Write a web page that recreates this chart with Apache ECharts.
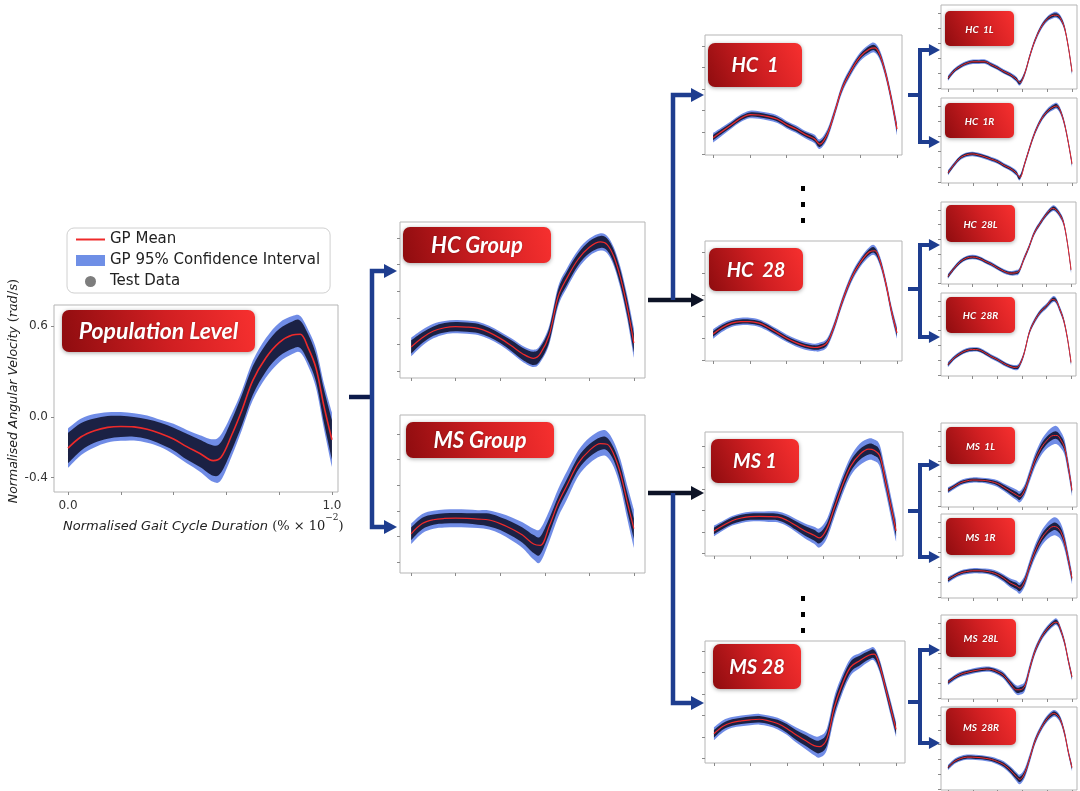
<!DOCTYPE html>
<html><head><meta charset="utf-8">
<script src="https://cdn.jsdelivr.net/npm/echarts@6/dist/echarts.min.js"></script>
<style>html,body{margin:0;padding:0;background:#fff}#c{width:1080px;height:791px}</style>
</head><body><div id="c"></div>
<script>
// ---------------- DATA ----------------
const X = [0,0.05,0.1,0.15,0.2,0.25,0.3,0.35,0.4,0.45,0.5,0.55,0.58,0.62,0.66,0.7,0.75,0.8,0.85,0.88,0.91,0.94,0.97,1.0];
const xTicks = [0,0.2,0.4,0.6,0.8,1.0];
const yTicks = [-0.4,-0.2,0,0.2,0.4,0.6];
const popXLabels = [0,1];
const popYLabels = [-0.4,0,0.6];
const plotLabels = ['Population Level','HC Group','MS Group','HC  1','HC  28','MS 1','MS 28',
  'HC  1L','HC  1R','HC  28L','HC  28R','MS  1L','MS  1R','MS  28L','MS  28R'];
const legendNames = ['GP Mean','GP 95% Confidence Interval','Test Data'];

const popMean   = [-0.205,-0.13,-0.09,-0.068,-0.062,-0.065,-0.08,-0.108,-0.145,-0.195,-0.24,-0.287,-0.265,-0.12,0.05,0.24,0.39,0.49,0.54,0.545,0.455,0.32,0.07,-0.15];
const popCI     = [0.13,0.12,0.11,0.1,0.095,0.09,0.09,0.09,0.1,0.11,0.12,0.14,0.15,0.14,0.13,0.13,0.13,0.13,0.125,0.12,0.12,0.13,0.15,0.18];
const popSpread = [0.1,0.09,0.08,0.075,0.07,0.065,0.065,0.07,0.075,0.085,0.09,0.1,0.1,0.1,0.1,0.095,0.09,0.09,0.09,0.09,0.09,0.09,0.11,0.13];

const hcgMean   = [-0.22,-0.15,-0.1,-0.075,-0.067,-0.07,-0.08,-0.11,-0.155,-0.21,-0.27,-0.305,-0.27,-0.13,0.16,0.3,0.44,0.53,0.57,0.55,0.46,0.3,0.08,-0.19];
const hcgCI     = [0.07,0.06,0.055,0.05,0.05,0.05,0.05,0.05,0.05,0.055,0.06,0.065,0.065,0.07,0.075,0.075,0.07,0.065,0.065,0.065,0.07,0.08,0.09,0.11];
const hcgSpread = [0.05,0.04,0.035,0.035,0.035,0.035,0.035,0.035,0.035,0.04,0.045,0.05,0.05,0.05,0.05,0.05,0.045,0.045,0.045,0.045,0.05,0.055,0.06,0.07];

const msgMean   = [-0.18,-0.1,-0.07,-0.06,-0.058,-0.06,-0.065,-0.072,-0.1,-0.14,-0.19,-0.26,-0.27,-0.12,0.06,0.2,0.37,0.47,0.525,0.52,0.44,0.29,0.07,-0.14];
const msgCI     = [0.08,0.075,0.07,0.07,0.07,0.07,0.07,0.075,0.08,0.09,0.1,0.12,0.13,0.12,0.11,0.11,0.1,0.1,0.1,0.1,0.1,0.11,0.13,0.15];
const msgSpread = [0.05,0.045,0.04,0.04,0.04,0.04,0.045,0.05,0.05,0.055,0.06,0.07,0.07,0.06,0.05,0.05,0.05,0.05,0.05,0.05,0.05,0.06,0.07,0.08];

const hc1Mean   = [-0.25,-0.19,-0.13,-0.07,-0.036,-0.04,-0.055,-0.08,-0.13,-0.17,-0.22,-0.26,-0.31,-0.22,-0.02,0.2,0.37,0.5,0.57,0.58,0.5,0.33,0.1,-0.17];
const hc1CI     = [0.045,0.04,0.035,0.035,0.035,0.035,0.035,0.035,0.035,0.035,0.035,0.04,0.045,0.045,0.04,0.04,0.04,0.04,0.045,0.045,0.045,0.045,0.05,0.06];
const hc1Spread = [0.025,0.022,0.02,0.02,0.02,0.02,0.02,0.02,0.02,0.02,0.02,0.022,0.025,0.025,0.022,0.022,0.022,0.022,0.025,0.025,0.025,0.025,0.028,0.03];

const hc28Mean   = [-0.16,-0.1,-0.06,-0.045,-0.045,-0.06,-0.1,-0.15,-0.2,-0.24,-0.27,-0.285,-0.28,-0.24,-0.08,0.13,0.35,0.5,0.6,0.61,0.5,0.3,0.05,-0.15];
const hc28CI     = [0.045,0.04,0.035,0.035,0.035,0.035,0.035,0.035,0.035,0.035,0.035,0.035,0.04,0.04,0.04,0.04,0.04,0.04,0.045,0.045,0.045,0.045,0.05,0.055];
const hc28Spread = [0.025,0.022,0.02,0.02,0.02,0.02,0.02,0.02,0.02,0.02,0.02,0.02,0.022,0.022,0.022,0.022,0.022,0.022,0.025,0.025,0.025,0.025,0.028,0.03];

const ms1Mean   = [-0.19,-0.14,-0.095,-0.07,-0.057,-0.055,-0.056,-0.06,-0.09,-0.14,-0.19,-0.23,-0.255,-0.17,0.02,0.21,0.41,0.52,0.57,0.56,0.51,0.29,0.05,-0.19];
const ms1CI     = [0.05,0.045,0.045,0.045,0.045,0.045,0.05,0.05,0.055,0.06,0.07,0.08,0.09,0.09,0.09,0.09,0.09,0.1,0.1,0.1,0.1,0.1,0.1,0.1];
const ms1Spread = [0.03,0.03,0.03,0.03,0.03,0.03,0.03,0.03,0.035,0.04,0.045,0.05,0.05,0.05,0.05,0.05,0.05,0.05,0.05,0.05,0.05,0.05,0.05,0.05];

const ms28Mean   = [-0.17,-0.1,-0.065,-0.05,-0.04,-0.035,-0.05,-0.075,-0.12,-0.18,-0.23,-0.28,-0.29,-0.22,0.07,0.27,0.45,0.51,0.56,0.57,0.46,0.27,0.07,-0.13];
const ms28CI     = [0.06,0.055,0.05,0.05,0.05,0.05,0.05,0.055,0.06,0.07,0.08,0.09,0.1,0.1,0.1,0.09,0.08,0.07,0.06,0.06,0.06,0.06,0.07,0.07];
const ms28Spread = [0.035,0.03,0.03,0.03,0.03,0.03,0.03,0.035,0.04,0.045,0.05,0.055,0.06,0.06,0.06,0.055,0.05,0.045,0.04,0.04,0.04,0.04,0.045,0.045];

const hc1lMean  = [-0.27,-0.17,-0.11,-0.07,-0.05,-0.05,-0.05,-0.09,-0.13,-0.18,-0.22,-0.28,-0.33,-0.2,0.03,0.23,0.41,0.52,0.57,0.57,0.52,0.4,0.15,-0.18];
const hc1rMean  = [-0.28,-0.17,-0.08,-0.04,-0.03,-0.045,-0.07,-0.1,-0.13,-0.18,-0.22,-0.28,-0.34,-0.15,0.06,0.25,0.42,0.53,0.59,0.6,0.52,0.36,0.12,-0.16];
const hc28lMean = [-0.31,-0.2,-0.11,-0.06,-0.045,-0.06,-0.1,-0.14,-0.19,-0.235,-0.265,-0.26,-0.23,-0.06,0.1,0.28,0.42,0.54,0.62,0.6,0.53,0.42,0.15,-0.22];
const hc28rMean = [-0.26,-0.17,-0.11,-0.07,-0.055,-0.06,-0.1,-0.15,-0.19,-0.24,-0.28,-0.3,-0.27,-0.1,0.17,0.32,0.45,0.53,0.62,0.6,0.48,0.34,0.1,-0.23];
const ms1lMean  = [-0.19,-0.14,-0.09,-0.065,-0.053,-0.055,-0.06,-0.075,-0.1,-0.15,-0.2,-0.25,-0.275,-0.18,0.01,0.2,0.37,0.48,0.54,0.54,0.48,0.38,0.12,-0.19];
const ms1rMean  = [-0.17,-0.12,-0.08,-0.06,-0.05,-0.05,-0.055,-0.07,-0.1,-0.15,-0.21,-0.25,-0.28,-0.18,0.02,0.2,0.37,0.48,0.54,0.53,0.47,0.33,0.1,-0.15];
const ms28lMean = [-0.19,-0.13,-0.085,-0.06,-0.04,-0.025,-0.015,-0.02,-0.05,-0.1,-0.2,-0.29,-0.29,-0.24,0.0,0.22,0.4,0.52,0.6,0.61,0.5,0.34,0.1,-0.12];
const ms28rMean = [-0.11,-0.03,0.01,0.03,0.03,0.025,0.015,0.0,-0.03,-0.07,-0.14,-0.23,-0.27,-0.18,0.02,0.24,0.42,0.55,0.62,0.6,0.52,0.35,0.1,-0.11];

const hcLeafCI      = [0.035,0.03,0.03,0.03,0.03,0.03,0.03,0.03,0.03,0.03,0.03,0.035,0.035,0.035,0.035,0.035,0.035,0.035,0.04,0.04,0.04,0.04,0.04,0.045];
const hcLeafSpread  = [0.02,0.018,0.018,0.018,0.018,0.018,0.018,0.018,0.018,0.018,0.018,0.02,0.02,0.02,0.02,0.02,0.02,0.02,0.022,0.022,0.022,0.022,0.022,0.025];
const ms1LeafCI     = [0.04,0.035,0.035,0.035,0.035,0.035,0.035,0.04,0.045,0.05,0.06,0.07,0.075,0.075,0.08,0.09,0.1,0.11,0.12,0.12,0.11,0.1,0.09,0.08];
const ms1LeafSpread = [0.022,0.02,0.02,0.02,0.02,0.02,0.02,0.022,0.025,0.03,0.035,0.04,0.04,0.04,0.04,0.045,0.05,0.05,0.05,0.05,0.05,0.05,0.045,0.04];
const ms28LeafCI     = [0.035,0.035,0.035,0.035,0.035,0.035,0.035,0.035,0.04,0.045,0.05,0.06,0.065,0.065,0.06,0.05,0.045,0.045,0.045,0.045,0.045,0.045,0.045,0.05];
const ms28LeafSpread = [0.02,0.02,0.02,0.02,0.02,0.02,0.02,0.02,0.022,0.025,0.03,0.035,0.035,0.035,0.03,0.028,0.025,0.025,0.025,0.025,0.025,0.025,0.025,0.028];

// ---------------- LAYOUT ----------------
const plots = [
  {mean: popMean,  ci: popCI,  sp: popSpread,  box:{l:54,t:305,w:284,h:187}, xr:[-0.053,1.023], yr:[-0.494,0.738], lw:1.6, pop:true},
  {mean: hcgMean,  ci: hcgCI,  sp: hcgSpread,  box:{l:400,t:222,w:245,h:156}, xr:[-0.05,1.05], yr:[-0.453,0.72], lw:1.2},
  {mean: msgMean,  ci: msgCI,  sp: msgSpread,  box:{l:400,t:415,w:245,h:158}, xr:[-0.05,1.05], yr:[-0.486,0.748], lw:1.2},
  {mean: hc1Mean,  ci: hc1CI,  sp: hc1Spread,  box:{l:705,t:35,w:197,h:120},  xr:[-0.044,1.027], yr:[-0.41,0.70], lw:1.2},
  {mean: hc28Mean, ci: hc28CI, sp: hc28Spread, box:{l:705,t:241,w:197,h:120}, xr:[-0.044,1.027], yr:[-0.41,0.70], lw:1.2},
  {mean: ms1Mean,  ci: ms1CI,  sp: ms1Spread,  box:{l:705,t:432,w:198,h:124}, xr:[-0.049,1.038], yr:[-0.423,0.73], lw:1.2},
  {mean: ms28Mean, ci: ms28CI, sp: ms28Spread, box:{l:705,t:641,w:200,h:122}, xr:[-0.049,1.049], yr:[-0.442,0.693], lw:1.2},
  {mean: hc1lMean,  ci: hcLeafCI, sp: hcLeafSpread, box:{l:941,t:5,w:136,h:84},   xr:[-0.056,1.04], yr:[-0.413,0.707], lw:1},
  {mean: hc1rMean,  ci: hcLeafCI, sp: hcLeafSpread, box:{l:941,t:98,w:136,h:85},  xr:[-0.056,1.04], yr:[-0.413,0.707], lw:1},
  {mean: hc28lMean, ci: hcLeafCI, sp: hcLeafSpread, box:{l:941,t:202,w:135,h:82}, xr:[-0.056,1.04], yr:[-0.413,0.707], lw:1},
  {mean: hc28rMean, ci: hcLeafCI, sp: hcLeafSpread, box:{l:941,t:293,w:135,h:83}, xr:[-0.056,1.04], yr:[-0.413,0.707], lw:1},
  {mean: ms1lMean,  ci: ms1LeafCI, sp: ms1LeafSpread, box:{l:941,t:423,w:136,h:84}, xr:[-0.056,1.04], yr:[-0.413,0.707], lw:1},
  {mean: ms1rMean,  ci: ms1LeafCI, sp: ms1LeafSpread, box:{l:941,t:514,w:136,h:84}, xr:[-0.056,1.04], yr:[-0.413,0.707], lw:1},
  {mean: ms28lMean, ci: ms28LeafCI, sp: ms28LeafSpread, box:{l:941,t:615,w:136,h:84}, xr:[-0.056,1.04], yr:[-0.413,0.707], lw:1},
  {mean: ms28rMean, ci: ms28LeafCI, sp: ms28LeafSpread, box:{l:941,t:707,w:136,h:83}, xr:[-0.056,1.04], yr:[-0.413,0.707], lw:1}
];
const labelBoxes = [
  {x:62,y:310,w:193,h:42,fs:23},
  {x:403,y:227,w:148,h:36,fs:22},
  {x:406,y:422,w:148,h:36,fs:22},
  {x:708,y:43,w:94,h:44,fs:20},
  {x:709,y:248,w:94,h:43,fs:20},
  {x:711,y:439,w:88,h:44,fs:20},
  {x:713,y:644,w:88,h:45,fs:20},
  {x:945,y:11,w:69,h:35,fs:10},
  {x:945,y:103,w:69,h:35,fs:10},
  {x:946,y:205,w:69,h:37,fs:10},
  {x:946,y:297,w:69,h:36,fs:10},
  {x:946,y:427,w:69,h:37,fs:10},
  {x:946,y:518,w:69,h:37,fs:10},
  {x:946,y:619,w:70,h:38,fs:10},
  {x:946,y:708,w:70,h:37,fs:10}
];

// ---------------- BUILD ----------------
function crSegs(p){
  let s='';
  for(let i=0;i<p.length-1;i++){
    const p0=p[i-1]||p[i], p1=p[i], p2=p[i+1], p3=p[i+2]||p[i+1];
    const c1=[p1[0]+(p2[0]-p0[0])/6, p1[1]+(p2[1]-p0[1])/6];
    const c2=[p2[0]-(p3[0]-p1[0])/6, p2[1]-(p3[1]-p1[1])/6];
    s+=' C'+c1[0].toFixed(2)+','+c1[1].toFixed(2)+' '+c2[0].toFixed(2)+','+c2[1].toFixed(2)+' '+p2[0].toFixed(2)+','+p2[1].toFixed(2);
  }
  return s;
}
function bandRender(params, api){
  if(params.dataIndexInside!==0) return null;
  const n = params.dataInsideLength || X.length;
  const top=[], bot=[];
  for(let i=0;i<n;i++){
    top.push(api.coord([api.value(0,i), api.value(2,i)]));
    bot.push(api.coord([api.value(0,i), api.value(1,i)]));
  }
  bot.reverse();
  const d='M'+top[0][0].toFixed(2)+','+top[0][1].toFixed(2)+crSegs(top)+' L'+bot[0][0].toFixed(2)+','+bot[0][1].toFixed(2)+crSegs(bot)+' Z';
  return {type:'path', shape:{pathData:d}, style:{fill: api.visual('color')}};
}

const grids=[], xAxes=[], yAxes=[], series=[];
const CI_COLOR='rgba(92,124,226,0.88)', SP_COLOR='rgba(8,10,32,0.82)';
plots.forEach((p,i)=>{
  grids.push({left:p.box.l, top:p.box.t, width:p.box.w, height:p.box.h, show:true,
    borderColor:'#b5b5b5', borderWidth:1, backgroundColor:'#fff', outerBoundsMode:'none', containLabel:false});
  xAxes.push({type:'value', gridIndex:i, min:p.xr[0], max:p.xr[1], position:'bottom',
    axisLine:{show:false, onZero:false}, splitLine:{show:false},
    axisTick:{show:true, inside:false, length:3, customValues:xTicks, lineStyle:{color:'#8a8a8a'}},
    axisLabel:{show:!!p.pop, customValues:popXLabels, margin:8, formatter:v=>Number(v).toFixed(1),
      fontFamily:'DejaVu Sans', fontSize:12, color:'#333'}});
  const yt = p.pop ? popYLabels : yTicks.filter(v=>v>=p.yr[0] && v<=p.yr[1]);
  yAxes.push({type:'value', gridIndex:i, min:p.yr[0], max:p.yr[1], position:'left',
    axisLine:{show:false, onZero:false}, splitLine:{show:false},
    axisTick:{show:true, inside:false, length:3, customValues:yt, lineStyle:{color:'#8a8a8a'}},
    axisLabel:{show:!!p.pop, customValues:popYLabels, margin:6, formatter:v=>Number(v).toFixed(1),
      fontFamily:'DejaVu Sans', fontSize:12, color:'#333'}});
  series.push({type:'custom', name:legendNames[1], xAxisIndex:i, yAxisIndex:i, z:2, clip:true, silent:true,
    itemStyle:{color:CI_COLOR}, encode:{x:0, y:[1,2]}, renderItem:bandRender,
    data:X.map((x,k)=>[x, +(p.mean[k]-p.ci[k]).toFixed(4), +(p.mean[k]+p.ci[k]).toFixed(4)])});
  series.push({type:'custom', name:legendNames[2], xAxisIndex:i, yAxisIndex:i, z:3, clip:true, silent:true,
    itemStyle:{color:SP_COLOR}, encode:{x:0, y:[1,2]}, renderItem:bandRender,
    data:X.map((x,k)=>[x, +(p.mean[k]-p.sp[k]).toFixed(4), +(p.mean[k]+p.sp[k]).toFixed(4)])});
  series.push({type:'line', name:legendNames[0], xAxisIndex:i, yAxisIndex:i, z:4, clip:true, silent:true,
    smooth:0.35, symbol:'none', showSymbol:false, color:'#ee2a2a',
    lineStyle:{color:'#ee2a2a', width:p.lw},
    data:X.map((x,k)=>[x, p.mean[k]])});
});

// graphic: label boxes
const graphics=[];
labelBoxes.forEach((b,i)=>{
  graphics.push({type:'rect', z:100, shape:{x:b.x, y:b.y, width:b.w, height:b.h, r: b.fs>12?7:5},
    style:{fill:new echarts.graphic.LinearGradient(0,1,1,0,[{offset:0,color:'#8e0c0f'},{offset:0.55,color:'#d11f22'},{offset:1,color:'#f7302f'}]),
      shadowBlur:4, shadowColor:'rgba(0,0,0,0.35)', shadowOffsetY:1}});
  graphics.push({type:'text', z:101, x:b.x+b.w/2, y:b.y+b.h/2+1,
    style:{text:plotLabels[i], fill:'#fff', font:'italic bold '+b.fs+'px Lato', align:'center', verticalAlign:'middle',
      textAlign:'center', textVerticalAlign:'middle', textShadowColor:'rgba(0,0,0,0.3)', textShadowBlur:2}});
});

// arrows
const NAVY='#1e3d8f', DARK='#0c1a4a', BLACK='#0d1326';
function seg(pts,color,w){ graphics.push({type:'polyline', z:90, shape:{points:pts}, style:{stroke:color, lineWidth:w||4.5, fill:null, lineCap:'butt', lineJoin:'miter'}}); }
function head(x,y,color,s){ s=s||1; graphics.push({type:'polygon', z:91, shape:{points:[[x-13*s,y-7*s],[x,y],[x-13*s,y+7*s]]}, style:{fill:color}}); }
seg([[349,397],[372,397]], DARK);
seg([[385,271],[372,271],[372,527],[385,527]], NAVY);
head(397,271,NAVY); head(397,527,NAVY);
seg([[648,300],[692,300]], BLACK);
seg([[692,95],[673,95],[673,300]], NAVY);
head(704,95,NAVY); head(704,300,BLACK);
seg([[648,493],[692,493]], BLACK);
seg([[673,493],[673,703],[692,703]], NAVY);
head(704,493,BLACK); head(704,703,NAVY);
[[50,142,95],[245,337,289],[465,557,511],[650,743,702]].forEach(a=>{
  seg([[908,a[2]],[920,a[2]]], NAVY, 4);
  seg([[929,a[0]],[920,a[0]],[920,a[1]],[929,a[1]]], NAVY, 4);
  head(940,a[0],NAVY,0.85); head(940,a[1],NAVY,0.85);
});
[[801,186],[801,202],[801,218],[801,596],[801,612],[801,628]].forEach(d=>{
  graphics.push({type:'rect', z:90, shape:{x:d[0], y:d[1], width:4, height:5}, style:{fill:'#000'}});
});
// axis titles
graphics.push({type:'text', z:95, x:14, y:391, rotation:Math.PI/2,
  style:{text:'{a|Normalised Angular Velocity }{b|(}{c|rad}{b|/}{c|s}{b|)}', align:'center', verticalAlign:'middle',
    textAlign:'center', textVerticalAlign:'middle',
    rich:{a:{font:'italic 12.5px DejaVu Sans', fill:'#222'}, b:{font:'13px DejaVu Serif', fill:'#222'}, c:{font:'italic 13px DejaVu Serif', fill:'#222'}}}});
graphics.push({type:'text', z:95, x:63, y:523,
  style:{text:'{a|Normalised Gait Cycle Duration }{b|(% × 10}{s|−2}{b|)}', align:'left', verticalAlign:'middle',
    textAlign:'left', textVerticalAlign:'middle',
    rich:{a:{font:'italic 13px DejaVu Sans', fill:'#222', lineHeight:20, verticalAlign:'bottom'},
          b:{font:'13px DejaVu Serif', fill:'#222', lineHeight:20, verticalAlign:'bottom'},
          s:{font:'9px DejaVu Serif', fill:'#222', lineHeight:20, verticalAlign:'top'}}}});

const option = {
  animation:false,
  backgroundColor:'#fff',
  grid:grids, xAxis:xAxes, yAxis:yAxes, series:series,
  legend:{show:true, left:67, top:228, orient:'vertical', padding:[4,10,4,8], itemGap:6, itemWidth:29, itemHeight:11,
    backgroundColor:'#fff', borderColor:'#d0d0d0', borderWidth:1, borderRadius:7, selectedMode:false,
    textStyle:{fontFamily:'DejaVu Sans', fontSize:15, color:'#222'},
    data:[{name:legendNames[0], itemStyle:{opacity:0}, lineStyle:{width:2, color:'#ee2a2a', opacity:1}},
          {name:legendNames[1], icon:'rect', itemStyle:{color:'#6f8fe6'}},
          {name:legendNames[2], icon:'circle', itemStyle:{color:'#7d7d7d'}}]},
  graphic:{elements:graphics}
};
const chart = echarts.init(document.getElementById('c'), null, {renderer:'canvas', width:1080, height:791});
chart.setOption(option);
</script></body></html>
